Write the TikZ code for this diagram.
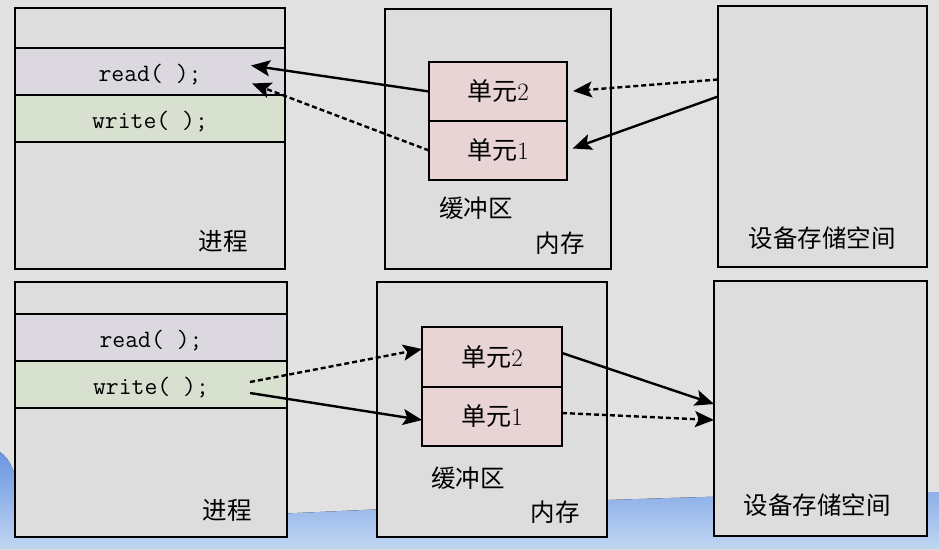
\documentclass[tikz,border=0pt]{standalone}
\usepackage{fontspec}
\newfontfamily\cjk{Noto Sans CJK SC}
\usetikzlibrary{positioning, arrows.meta}

\definecolor{bgc}{HTML}{E1E1E1}
\definecolor{boxc}{HTML}{DDDDDD}
\definecolor{readc}{HTML}{DCD8E0}
\definecolor{writec}{HTML}{D8E0D0}
\definecolor{unitc}{HTML}{E8D4D4}
\definecolor{swtop}{HTML}{6A95E2}
\definecolor{swbot}{HTML}{C0D6F2}

\begin{document}
\begin{tikzpicture}[x=1pt, y=-1pt,
        box/.style={draw, line width=2pt, fill=boxc, inner sep=0pt, outer sep=0pt},
        band/.style={draw, line width=2pt, inner sep=0pt, outer sep=0pt,
            minimum height=47pt, text height=21pt, text depth=2pt,
            font=\fontsize{25}{28}\ttfamily},
        cell/.style={draw, line width=2pt, fill=unitc, inner sep=0pt, outer sep=0pt,
            minimum height=59pt, font=\fontsize{25}{28}\selectfont},
        lbl/.style={font=\fontsize{24.5}{28}\cjk},
        go/.style={line width=2.4pt, -{Stealth[length=19pt, width=16pt, inset=4pt]}},
        godash/.style={go, dash pattern=on 5pt off 3pt}]

    \useasboundingbox (0,0) rectangle (939,549);
    \fill[bgc] (0,0) rectangle (939,549);
    \fill[top color=swtop, bottom color=swbot]
        (0,452) .. controls (25,470) and (5,505) .. (60,515)
        .. controls (200,526) and (400,500) .. (939,492)
        -- (939,549) -- (0,549) -- cycle;

    % upper row: read
    \node[box, minimum width=270pt, minimum height=261pt] (procT) at (150,138.5) {};
    \node[band, fill=readc, minimum width=270pt, below=40pt of procT.north] (readT) {read( );};
    \node[band, fill=writec, minimum width=270pt, below=0pt of readT] (writeT) {write( );};
    \node[lbl] (pnT) at (223,241) {进程};

    \node[box, minimum width=226pt, minimum height=260pt] (memT) at (498,139) {};
    \node[cell, minimum width=138pt] (u2T) at (498,91.5) {{\cjk 单元}2};
    \node[cell, minimum width=138pt, below=0pt of u2T] (u1T) {{\cjk 单元}1};
    \node[lbl] (bufT) at (476,208) {缓冲区};
    \node[lbl] (mnT) at (560,243) {内存};

    \node[box, minimum width=209pt, minimum height=261pt] (devT) at (822.5,136.5) {};
    \node[lbl] (dnT) at (822,238) {设备存储空间};

    \draw[go] (u2T.west) -- ([xshift=-34pt, yshift=6pt]readT.east);
    \draw[godash] (u1T.west) -- ([xshift=-33pt, yshift=-12pt]readT.east);
    \draw[godash, shorten >=6pt] ([yshift=57pt]devT.west) -- (u2T.east);
    \draw[go, shorten >=6pt] ([yshift=40pt]devT.west) -- (u1T.east);

    % lower row: write
    \node[box, minimum width=272pt, minimum height=255pt] (procB) at (151,409.5) {};
    \node[band, fill=readc, minimum width=272pt, below=32pt of procB.north] (readB) {read( );};
    \node[band, fill=writec, minimum width=272pt, below=0pt of readB] (writeB) {write( );};
    \node[lbl] (pnB) at (227,510) {进程};

    \node[box, minimum width=230pt, minimum height=255pt] (memB) at (492,409.5) {};
    \node[cell, minimum width=140pt, minimum height=60pt] (u2B) at (492,357) {{\cjk 单元}2};
    \node[cell, minimum width=140pt, below=0pt of u2B] (u1B) {{\cjk 单元}1};
    \node[lbl] (bufB) at (468,478) {缓冲区};
    \node[lbl] (mnB) at (555,512) {内存};

    \node[box, minimum width=213pt, minimum height=255pt] (devB) at (820.5,408.5) {};
    \node[lbl] (dnB) at (817,505) {设备存储空间};

    \draw[godash] ([xshift=-37pt, yshift=2.5pt]writeB.east) -- ([yshift=8pt]u2B.west);
    \draw[go] ([xshift=-37pt, yshift=-8.5pt]writeB.east) -- ([yshift=-3.5pt]u1B.west);
    \draw[go] ([yshift=4pt]u2B.east) -- ([yshift=4.5pt]devB.west);
    \draw[godash] ([yshift=3.5pt]u1B.east) -- ([yshift=-11.5pt]devB.west);
\end{tikzpicture}
\end{document}
